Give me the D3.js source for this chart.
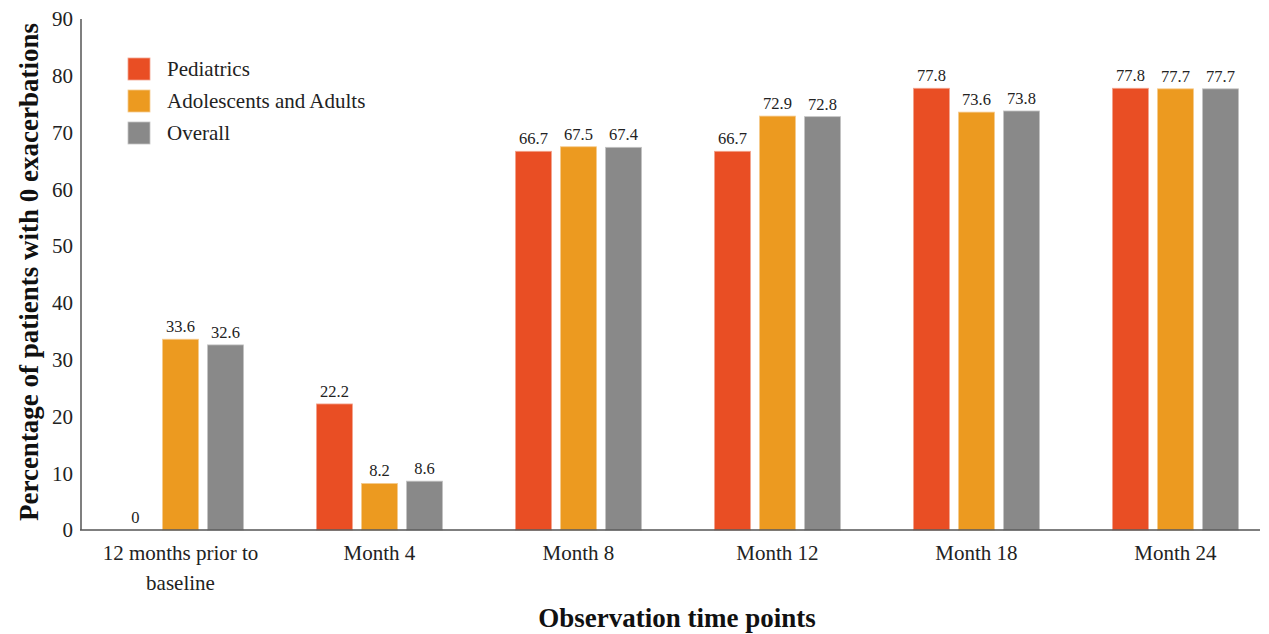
<!DOCTYPE html>
<html><head><meta charset="utf-8">
<script src="https://cdn.jsdelivr.net/npm/d3@7"></script>
<style>body{margin:0;background:#fff}svg{display:block;font-family:"Liberation Serif","Times New Roman",serif}</style>
</head><body><svg id="c" width="1269" height="634"></svg>
<script>
const categories = ["12 months prior to\nbaseline","Month 4","Month 8","Month 12","Month 18","Month 24"];
const seriesNames = ["Pediatrics","Adolescents and Adults","Overall"];
const pediatrics = [0,22.2,66.7,66.7,77.8,77.8];
const adolescentsAdults = [33.6,8.2,67.5,72.9,73.6,77.7];
const overall = [32.6,8.6,67.4,72.8,73.8,77.7];
const yTicks = [0,10,20,30,40,50,60,70,80,90];
const colors = ["#E94E24","#EC9A20","#898989"];
const strokes = ["#F3A48E","#F6CB8E","#C4C4C4"];

const series = [pediatrics, adolescentsAdults, overall];
const svg = d3.select("#c");
const x0 = d3.scaleBand().domain(categories).range([81,1275]).paddingInner(0.366).paddingOuter(0.183);
const x1 = d3.scaleBand().domain(seriesNames).range([0,x0.bandwidth()]).paddingInner(0.2);
const y = d3.scaleLinear().domain([0,90]).range([530,19]);

// bars
categories.forEach((c,i)=>{
  series.forEach((s,j)=>{
    const v=s[i];
    const bx=x0(c)+x1(seriesNames[j]);
    if(v>0){
      svg.append("rect").attr("x",bx).attr("y",y(v)).attr("width",x1.bandwidth()).attr("height",y(0)-y(v))
        .attr("fill",colors[j]).attr("stroke",strokes[j]).attr("stroke-width",0.8);
    }
    svg.append("text").attr("x",bx+x1.bandwidth()/2).attr("y",y(v)-7).attr("text-anchor","middle")
      .attr("font-size",16.5).attr("fill","#222").text(v===0?"0":v.toFixed(1));
  });
});

// axes
svg.append("line").attr("x1",81).attr("x2",81).attr("y1",19).attr("y2",530).attr("stroke","#555").attr("stroke-width",1.5);
svg.append("line").attr("x1",80).attr("x2",1260).attr("y1",530).attr("y2",530).attr("stroke","#555").attr("stroke-width",1.5);
yTicks.forEach(t=>{
  svg.append("text").attr("x",73).attr("y",y(t)).attr("dy","0.35em").attr("text-anchor","end")
    .attr("font-size",21).attr("fill","#222").text(t);
});
categories.forEach(c=>{
  const lines=c.split("\n");
  const t=svg.append("text").attr("text-anchor","middle").attr("font-size",21).attr("fill","#222");
  lines.forEach((l,k)=>t.append("tspan").attr("x",x0(c)+x0.bandwidth()/2).attr("y",560+k*30).text(l));
});

// titles
svg.append("text").attr("x",677).attr("y",627).attr("text-anchor","middle").attr("font-weight","bold")
  .attr("font-size",27).attr("fill","#111").text("Observation time points");
svg.append("text").attr("transform","translate(38,272) rotate(-90)").attr("text-anchor","middle").attr("font-weight","bold")
  .attr("font-size",27).attr("fill","#111").text("Percentage of patients with 0 exacerbations");

// legend
seriesNames.forEach((n,j)=>{
  const ly=58+j*32;
  svg.append("rect").attr("x",128).attr("y",ly).attr("width",22).attr("height",22).attr("fill",colors[j]).attr("stroke",strokes[j]).attr("stroke-width",0.8);
  svg.append("text").attr("x",167).attr("y",ly+11).attr("dy","0.35em").attr("font-size",21).attr("fill","#222").text(n);
});
</script></body></html>
